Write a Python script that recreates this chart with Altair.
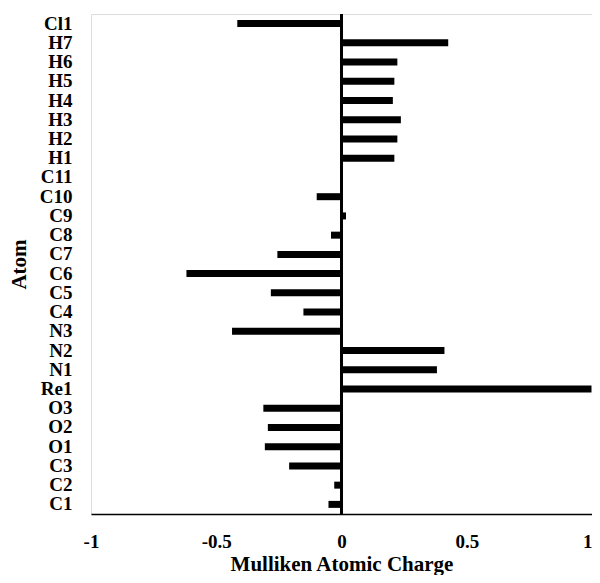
import altair as alt
import pandas as pd

atoms = ["Cl1", "H7", "H6", "H5", "H4", "H3", "H2", "H1", "C11", "C10", "C9", "C8",
         "C7", "C6", "C5", "C4", "N3", "N2", "N1", "Re1", "O3", "O2", "O1", "C3", "C2", "C1"]
charges = [-0.416, 0.426, 0.223, 0.211, 0.205, 0.237, 0.223, 0.211, 0.0, -0.099, 0.018, -0.042,
           -0.256, -0.619, -0.282, -0.152, -0.437, 0.411, 0.381, 0.998, -0.312, -0.294, -0.306,
           -0.209, -0.029, -0.052]
x_ticks = [-1, -0.5, 0, 0.5, 1]

df = pd.DataFrame({"Atom": atoms, "Charge": charges})

FONT = "Liberation Serif"

bars = alt.Chart(df).mark_bar(color="black", size=7).encode(
    x=alt.X(
        "Charge:Q",
        scale=alt.Scale(domain=[-1, 1], nice=False, zero=False),
        axis=alt.Axis(
            values=x_ticks,
            format="~g",
            title="Mulliken Atomic Charge",
            grid=False,
            ticks=False,
            tickSize=0,
            domain=True,
            domainColor="black",
            domainWidth=1.5,
            labelFont=FONT,
            labelFontSize=19,
            labelFontWeight="bold",
            labelColor="black",
            labelPadding=18,
            labelFlush=False,
            labelOverlap=False,
            labelAlign={"condition": {"test": "datum.value >= 1", "value": "right"},
                        "value": "center"},
            labelExpr="replace(datum.label, '\u2212', '-')",
            titleFont=FONT,
            titleFontSize=21,
            titleFontWeight="bold",
            titleColor="black",
            titleBaseline="alphabetic",
            titleY=56,
        ),
    ),
    y=alt.Y(
        "Atom:N",
        sort=atoms,
        scale=alt.Scale(paddingInner=0, paddingOuter=0),
        axis=alt.Axis(
            title="Atom",
            grid=False,
            ticks=False,
            tickSize=0,
            domain=False,
            labelFont=FONT,
            labelFontSize=19,
            labelFontWeight="bold",
            labelColor="black",
            labelPadding=19,
            labelOverlap=False,
            titleFont=FONT,
            titleFontSize=21,
            titleFontWeight="bold",
            titleColor="black",
            titleAngle=270,
            titleAlign="center",
            titleBaseline="middle",
            titleX=-72,
            titleY=250,
        ),
    ),
)

zero_rule = alt.Chart(df).mark_rule(color="black", strokeWidth=1.5).encode(
    x=alt.datum(0)
)

chart = alt.layer(bars, zero_rule).properties(
    width=501,
    height=500,
    autosize=alt.AutoSizeParams(type="none"),
    padding={"left": 83, "top": 6, "right": 0, "bottom": 61},
).configure_view(stroke=None).configure(background="white")

chart.save("out.html", embed_options={"renderer": "svg", "actions": False})
